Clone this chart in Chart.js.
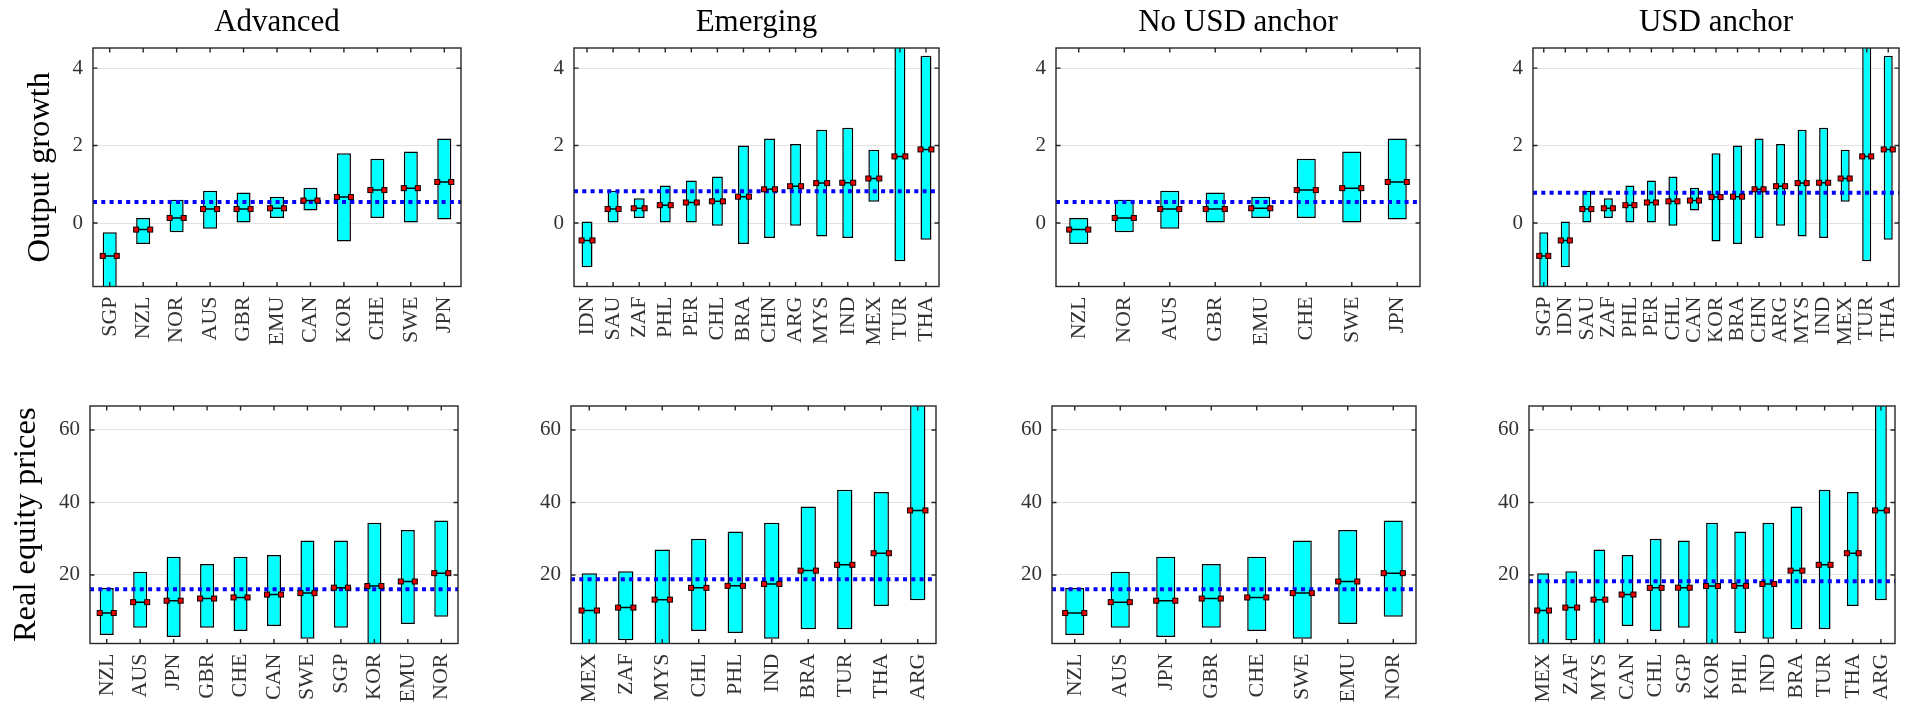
<!DOCTYPE html>
<html>
<head>
<meta charset="utf-8">
<title>Output growth and real equity prices by country group</title>
<script src="https://cdn.jsdelivr.net/npm/chart.js@4/dist/chart.umd.min.js"></script>
<style>
  html, body { margin: 0; padding: 0; background: #fff; overflow: hidden; width: 1905px; height: 706px; }
  canvas.panel { position: absolute; }
</style>
</head>
<body>
<script>
// ---- data -------------------------------------------------------------
const countries = ['SGP','NZL','NOR','AUS','GBR','EMU','CAN','KOR','CHE','SWE','JPN',
                   'IDN','SAU','ZAF','PHL','PER','CHL','BRA','CHN','ARG','MYS','IND','MEX','TUR','THA'];

// Output growth: lower end, upper end and median of each country's range
const outputLow    = [-1.90,-0.54,-0.24,-0.15, 0.00, 0.13, 0.32,-0.48, 0.13, 0.00, 0.09,
                      -1.14, 0.00, 0.13, 0.00, 0.00,-0.07,-0.54,-0.39,-0.07,-0.35,-0.39, 0.55,-0.99,-0.43];
const outputHigh   = [-0.24, 0.13, 0.60, 0.83, 0.79, 0.68, 0.91, 1.80, 1.66, 1.85, 2.18,
                       0.04, 0.83, 0.64, 0.97, 1.10, 1.20, 2.00, 2.18, 2.04, 2.41, 2.46, 1.89, 5.00, 4.32];
const outputMedian = [-0.85,-0.17, 0.13, 0.36, 0.36, 0.38, 0.58, 0.67, 0.85, 0.90, 1.06,
                      -0.45, 0.36, 0.38, 0.46, 0.53, 0.56, 0.68, 0.87, 0.95, 1.03, 1.04, 1.15, 1.72, 1.90];

// Real equity prices (null where a country has no equity series)
const equityLow    = [5.47, 3.45, 8.5, 5.47, 5.47, 6.5, 5.9, 0.0, 4.55, 2.4, 2.9,
                      null, null, 1.98, 4.0, null, 4.55, 5.0, null, 13.0, 0.0, 2.44, 0.0, 5.0, 11.45];
const equityHigh   = [29.5, 16.4, 35.0, 20.9, 23.0, 32.4, 25.5, 34.4, 25.0, 29.5, 25.0,
                      null, null, 21.0, 32.0, null, 30.0, 38.9, null, 72.0, 27.0, 34.4, 20.5, 43.5, 42.9];
const equityMedian = [16.5, 9.5, 20.5, 12.5, 13.5, 18.2, 14.6, 16.95, 13.8, 15.0, 12.9,
                      null, null, 11.0, 17.0, null, 16.45, 21.2, null, 37.8, 13.2, 17.5, 10.2, 22.8, 26.0];

// Group averages (dotted lines), one per column
const outputMean = [0.54, 0.82, 0.54, 0.78];
const equityMean = [16.05, 18.8, 16.05, 18.25];

// Country order in each panel
const advOutput   = ['SGP','NZL','NOR','AUS','GBR','EMU','CAN','KOR','CHE','SWE','JPN'];
const emgOutput   = ['IDN','SAU','ZAF','PHL','PER','CHL','BRA','CHN','ARG','MYS','IND','MEX','TUR','THA'];
const noUsdOutput = ['NZL','NOR','AUS','GBR','EMU','CHE','SWE','JPN'];
const usdOutput   = ['SGP','IDN','SAU','ZAF','PHL','PER','CHL','CAN','KOR','BRA','CHN','ARG','MYS','IND','MEX','TUR','THA'];
const advEquity   = ['NZL','AUS','JPN','GBR','CHE','CAN','SWE','SGP','KOR','EMU','NOR'];
const emgEquity   = ['MEX','ZAF','MYS','CHL','PHL','IND','BRA','TUR','THA','ARG'];
const noUsdEquity = ['NZL','AUS','JPN','GBR','CHE','SWE','EMU','NOR'];
const usdEquity   = ['MEX','ZAF','MYS','CAN','CHL','SGP','KOR','PHL','IND','BRA','TUR','THA','ARG'];

const groupTitles = ['Advanced', 'Emerging', 'No USD anchor', 'USD anchor'];
const rowTitles   = ['Output growth', 'Real equity prices'];
const outputTicks = [0, 2, 4];
const equityTicks = [20, 40, 60];

// ---- layout -----------------------------------------------------------
const FONT = "'Liberation Serif', 'Times New Roman', serif";

const rows = [
  { top: 0, height: 372, padTop: 0, plotBottom: 286.5, yMin: -1.64, yMax: 4.52, ticks: outputTicks,
    low: outputLow, high: outputHigh, med: outputMedian, means: outputMean,
    groups: [advOutput, emgOutput, noUsdOutput, usdOutput],
    lefts: [93, 574, 1056, 1533], rights: [461, 939, 1420, 1899], yTitlePad: 20.7 },
  { top: 380, height: 340, padTop: 26, plotBottom: 643.5, yMin: 1.1, yMax: 66.6, ticks: equityTicks,
    low: equityLow, high: equityHigh, med: equityMedian, means: equityMean,
    groups: [advEquity, emgEquity, noUsdEquity, usdEquity],
    lefts: [90, 571, 1052, 1529], rights: [458, 936, 1416, 1895], yTitlePad: 6.5 }
];

// Median markers, group-average line, axes box and inward tick marks
const panelDecor = {
  id: 'panelDecor',
  afterDatasetsDraw(chart, args, opts) {
    const { ctx, chartArea: a, scales: { x, y } } = chart;
    ctx.save();
    ctx.beginPath();
    ctx.rect(a.left, a.top, a.right - a.left, a.bottom - a.top);
    ctx.clip();
    const ym = y.getPixelForValue(opts.mean);
    ctx.strokeStyle = '#0000ff';
    ctx.lineWidth = 4;
    ctx.setLineDash([4, 4.3]);
    ctx.beginPath();
    ctx.moveTo(a.left, ym);
    ctx.lineTo(a.right, ym);
    ctx.stroke();
    ctx.setLineDash([]);

    const meta = chart.getDatasetMeta(0);
    meta.data.forEach((bar, i) => {
      const { x: bx, width: bw } = bar.getProps(['x', 'width'], true);
      const py = y.getPixelForValue(opts.medians[i]);
      const x0 = bx - bw / 2, x1 = bx + bw / 2;
      ctx.strokeStyle = '#000';
      ctx.lineWidth = 1.5;
      ctx.beginPath();
      ctx.moveTo(x0, py);
      ctx.lineTo(x1, py);
      ctx.stroke();
      [x0, x1].forEach(px => {
        ctx.fillStyle = '#ee0000';
        ctx.fillRect(px - 2.5, py - 2.5, 5, 5);
        ctx.lineWidth = 1;
        ctx.strokeRect(px - 2.5, py - 2.5, 5, 5);
      });
    });
    ctx.restore();
  },
  afterDraw(chart) {
    const { ctx, chartArea: a, scales: { x, y } } = chart;
    ctx.save();
    ctx.strokeStyle = '#262626';
    ctx.lineWidth = 1.4;
    ctx.beginPath();
    x.ticks.forEach((t, i) => {
      const px = x.getPixelForTick(i);
      ctx.moveTo(px, a.bottom); ctx.lineTo(px, a.bottom - 4.5);
      ctx.moveTo(px, a.top);    ctx.lineTo(px, a.top + 4.5);
    });
    y.ticks.forEach(t => {
      const py = y.getPixelForValue(t.value);
      ctx.moveTo(a.left, py);  ctx.lineTo(a.left + 4.5, py);
      ctx.moveTo(a.right, py); ctx.lineTo(a.right - 4.5, py);
    });
    ctx.stroke();
    ctx.strokeRect(a.left, a.top, a.right - a.left, a.bottom - a.top);
    ctx.restore();
  }
};

const idx = c => countries.indexOf(c);

rows.forEach((row, r) => {
  row.groups.forEach((cats, col) => {
    const canvasLeft = col === 0 ? 0 : row.lefts[col] - 60;
    const yAxisW = row.lefts[col] - canvasLeft;
    const width = row.rights[col] + 30 - canvasLeft;
    const xAxisH = row.height - row.plotBottom + row.top;

    const canvas = document.createElement('canvas');
    canvas.className = 'panel';
    canvas.width = width;
    canvas.height = row.height;
    canvas.style.left = canvasLeft + 'px';
    canvas.style.top = row.top + 'px';
    canvas.style.width = width + 'px';
    canvas.style.height = row.height + 'px';
    document.body.appendChild(canvas);

    new Chart(canvas, {
      type: 'bar',
      data: {
        labels: cats,
        datasets: [{
          data: cats.map(c => [row.low[idx(c)], row.high[idx(c)]]),
          backgroundColor: '#00ffff',
          borderColor: '#000000',
          borderWidth: 1.5,
          borderSkipped: false,
          barPercentage: 0.42,
          categoryPercentage: 1,
          clip: 0
        }]
      },
      options: {
        responsive: false,
        animation: false,
        devicePixelRatio: 1,
        layout: { padding: { top: row.padTop, right: 30, left: 0, bottom: 0 } },
        plugins: {
          legend: { display: false },
          tooltip: { enabled: false },
          title: r === 0 ? {
            display: true,
            text: groupTitles[col],
            fullSize: false,
            color: '#000',
            font: { family: FONT, size: 31, weight: 'normal' },
            padding: { top: 4, bottom: 6.8 }
          } : { display: false },
          panelDecor: {
            mean: row.means[col],
            medians: cats.map(c => row.med[idx(c)])
          }
        },
        scales: {
          x: {
            grid: { display: false, drawTicks: false },
            border: { display: false },
            ticks: {
              autoSkip: false, minRotation: 90, maxRotation: 90, padding: 10,
              color: '#333', font: { family: FONT, size: 22 }
            },
            afterFit: s => { s.height = xAxisH; }
          },
          y: {
            min: row.yMin,
            max: row.yMax,
            afterBuildTicks: s => { s.ticks = row.ticks.map(v => ({ value: v })); },
            grid: { color: '#e2e2e2', lineWidth: 1, drawTicks: false },
            border: { display: false },
            ticks: { padding: 10, color: '#333', font: { family: FONT, size: 21 } },
            title: col === 0 ? {
              display: true,
              text: rowTitles[r],
              color: '#000',
              font: { family: FONT, size: 32.5 },
              padding: { top: row.yTitlePad, bottom: 0 }
            } : { display: false },
            afterFit: s => { s.width = yAxisW; }
          }
        }
      },
      plugins: [panelDecor]
    });
  });
});
</script>
</body>
</html>
